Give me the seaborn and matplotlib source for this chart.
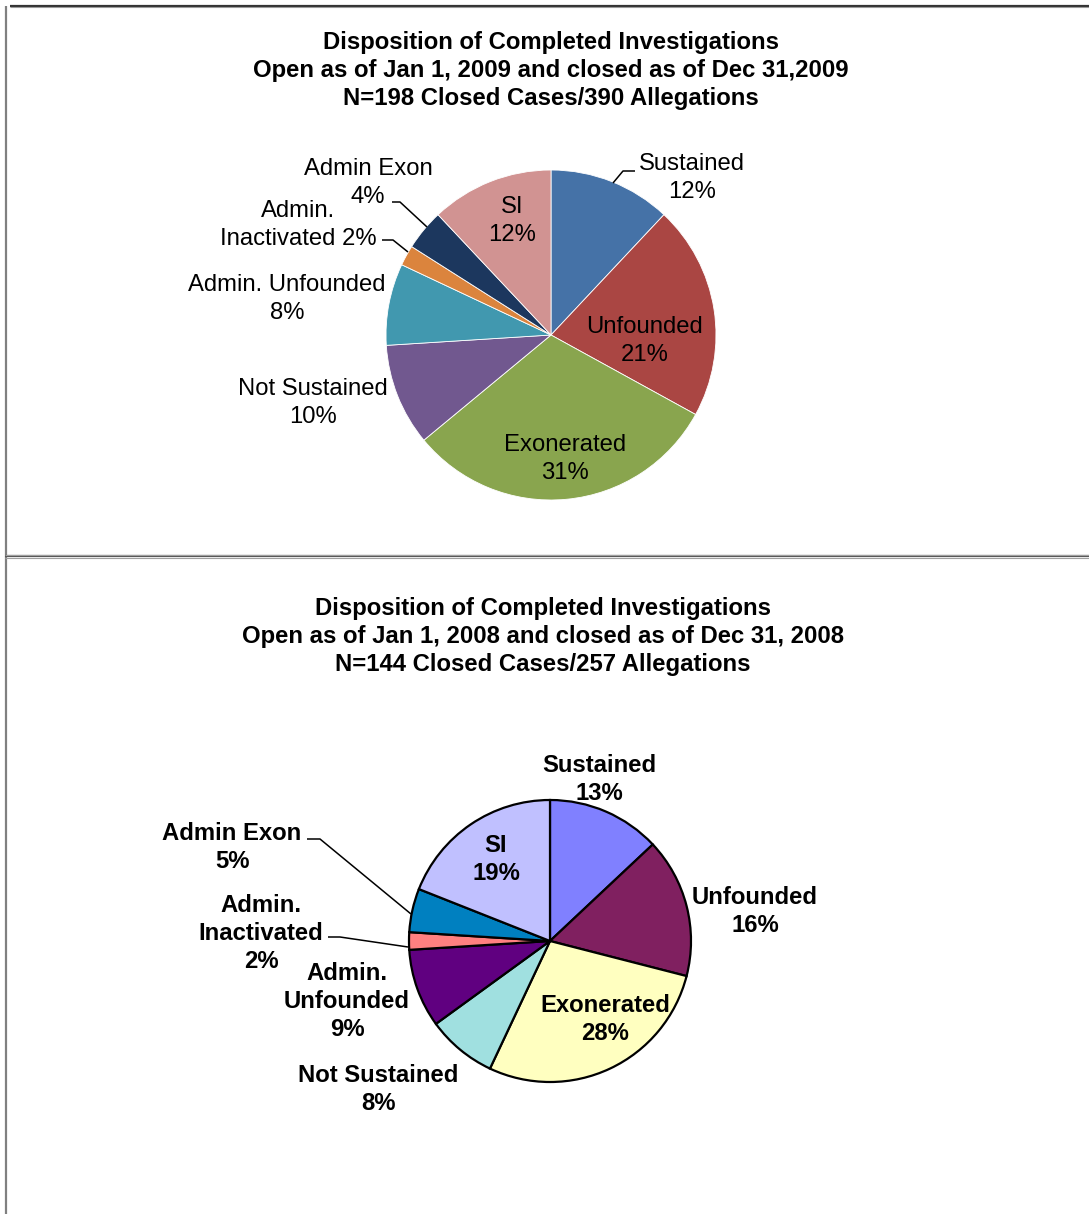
import matplotlib
matplotlib.use("Agg")
import matplotlib.pyplot as plt
from matplotlib.lines import Line2D
import seaborn as sns

sns.set_theme(style="white")
plt.rcParams["font.family"] = ["Liberation Sans", "DejaVu Sans"]

# ---- data ----
categories = ["Sustained", "Unfounded", "Exonerated", "Not Sustained",
              "Admin. Unfounded", "Admin. Inactivated", "Admin Exon", "SI"]
pct_2009 = [12, 21, 31, 10, 8, 2, 4, 12]
pct_2008 = [13, 16, 28, 8, 9, 2, 5, 19]

title_2009 = ["Disposition of Completed Investigations",
              "Open as of Jan 1, 2009 and closed as of Dec 31,2009",
              "N=198 Closed Cases/390 Allegations"]
title_2008 = ["Disposition of Completed Investigations",
              "Open as of Jan 1, 2008 and closed as of Dec 31, 2008",
              "N=144 Closed Cases/257 Allegations"]

colors_2009 = sns.color_palette(["#4572A7", "#AA4643", "#89A54E", "#71588F",
                                 "#4198AF", "#DB843D", "#1C375E", "#D19392"])
colors_2008 = sns.color_palette(["#8080FF", "#802060", "#FFFFC0", "#A0E0E0",
                                 "#600080", "#FF8080", "#0080C0", "#C0C0FF"])

W, H = 1089, 1214
fig = plt.figure(figsize=(W / 100, H / 100), dpi=100)
ax = fig.add_axes([0, 0, 1, 1])


def Y(y):
    return H - y


FS = 17.2
TEXT_DY = 2  # nudge text centres down to sit on the cap-height middle


def lines_at(ax, texts, x, ys, bold=False):
    for t, y in zip(texts, ys):
        ax.text(x, Y(y + TEXT_DY), t, ha="center", va="center", fontsize=FS,
                fontweight="bold" if bold else "normal", color="black")


def leader(ax, pts):
    ax.plot([p[0] for p in pts], [Y(p[1]) for p in pts], color="black", lw=1.1,
            solid_capstyle="butt")


# ---- 2009 pie ----
ax.pie(pct_2009, colors=colors_2009, startangle=90, counterclock=False,
       center=(551, Y(335)), radius=165,
       wedgeprops=dict(linewidth=0.6, edgecolor="white"))

# ---- 2008 pie ----
ax.pie(pct_2008, colors=colors_2008, startangle=90, counterclock=False,
       center=(550, Y(941)), radius=141,
       wedgeprops=dict(linewidth=1.6, edgecolor="black"))

# pixel-like coordinate frame for the whole figure
ax.set_xlim(0, W)
ax.set_ylim(0, H)
ax.set_aspect("equal")
ax.axis("off")

lines_at(ax, title_2009, 551, [41, 69, 96], bold=True)
lab1 = {
    "Sustained": (692, [162, 190]),
    "Unfounded": (645, [325, 353]),
    "Exonerated": (565, [443, 471]),
    "Not Sustained": (313, [387, 415]),
    "Admin. Unfounded": (287, [283, 311]),
    "SI": (512, [205, 233]),
}
for name, v in zip(categories, pct_2009):
    if name in lab1:
        x, ys = lab1[name]
        lines_at(ax, [name, f"{v}%"], x, ys)
lines_at(ax, ["Admin.", f"Inactivated {pct_2009[5]}%"], 298, [209, 237])
lines_at(ax, ["Admin Exon", f"{pct_2009[6]}%"], 368, [167, 195])
leader(ax, [(613, 183), (623, 171), (635, 171)])
leader(ax, [(382, 240), (393, 240), (408, 252)])
leader(ax, [(392, 202), (400, 202), (427, 227)])

lines_at(ax, title_2008, 543, [607, 635, 662], bold=True)
lab2 = {
    "Sustained": (599, [764, 792]),
    "Unfounded": (755, [896, 924]),
    "Exonerated": (605, [1004, 1032]),
    "Not Sustained": (378, [1074, 1102]),
    "SI": (496, [844, 872]),
}
for name, v in zip(categories, pct_2008):
    if name in lab2:
        x, ys = lab2[name]
        lines_at(ax, [name, f"{v}%"], x, ys, bold=True)
lines_at(ax, ["Admin.", "Unfounded", f"{pct_2008[4]}%"], 347, [972, 1000, 1028], bold=True)
lines_at(ax, ["Admin.", "Inactivated", f"{pct_2008[5]}%"], 261, [904, 932, 960], bold=True)
lines_at(ax, ["Admin Exon", f"{pct_2008[6]}%"], 232, [832, 860], bold=True)
leader(ax, [(307, 839), (320, 839), (411, 914)])
leader(ax, [(328, 937), (340, 937), (408, 947)])


# ---- frame lines ----
def fig_line(x0, y0, x1, y1, color, lw):
    fig.add_artist(Line2D([x0 / W, x1 / W], [1 - y0 / H, 1 - y1 / H],
                          transform=fig.transFigure, color=color, lw=lw,
                          solid_capstyle="butt"))


fig_line(10, 5.5, W, 5.5, "#333333", 1.6)
fig_line(10, 7, W, 7, "#9a9a9a", 0.8)
fig_line(5.5, 6, 5.5, H, "#808080", 1.6)
fig_line(5, 556, W, 556, "#555555", 1.6)
fig_line(5, 554.5, W, 554.5, "#a0a0a0", 0.8)
fig_line(5, 557.5, W, 557.5, "#a0a0a0", 0.8)

fig.savefig("out.png", dpi=100, facecolor="white")
